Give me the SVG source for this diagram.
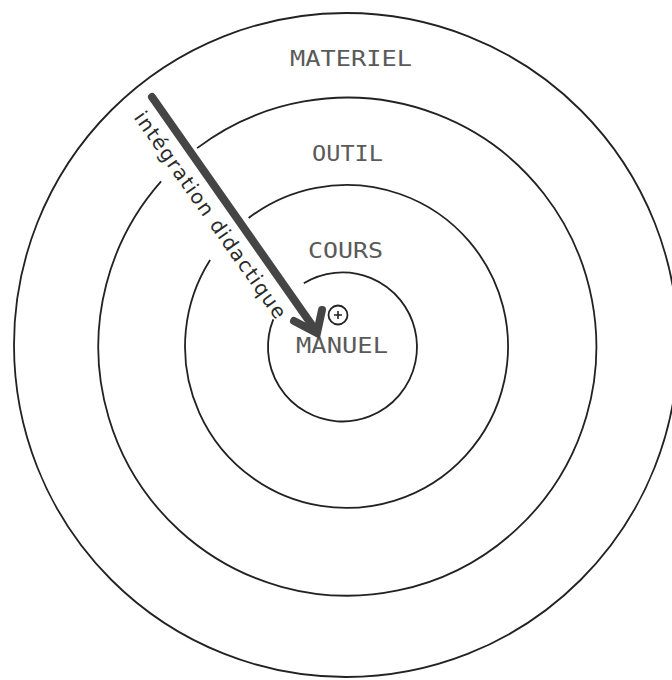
<svg xmlns="http://www.w3.org/2000/svg" width="672" height="680" viewBox="0 0 672 680">
  <style>
    .ring { fill: none; stroke: #222; stroke-width: 1.8; }
    .lbl { font-family: "DejaVu Sans Mono", "Liberation Mono", monospace; font-size: 22px; fill: #5a5a5a; }
    .hand { font-family: "DejaVu Sans", "Liberation Sans", sans-serif; font-size: 20px; fill: #2a2a2a; }
    .arrow { fill: none; stroke: #454545; stroke-width: 8; stroke-linecap: round; stroke-linejoin: miter; }
  </style>
  <rect width="672" height="680" fill="#fff"/>

  <g id="materiel">
    <circle class="ring" cx="346" cy="345" r="332"/>
    <text class="lbl" x="290" y="66" textLength="122" lengthAdjust="spacingAndGlyphs">MATERIEL</text>
  </g>

  <g id="outil">
    <path class="ring" d="M197.1 148.1 A249 249 0 1 1 161.1 181.4"/>
    <text class="lbl" x="312" y="161" textLength="71" lengthAdjust="spacingAndGlyphs">OUTIL</text>
  </g>

  <g id="cours">
    <path class="ring" d="M248.6 218 A161.5 161.5 0 1 1 210.1 260"/>
    <text class="lbl" x="308" y="258" textLength="75" lengthAdjust="spacingAndGlyphs">COURS</text>
  </g>

  <g id="manuel">
    <path class="ring" d="M303.8 283.3 A74.5 74.5 0 1 1 273.3 319.3"/>
    <text class="lbl" x="296" y="353" textLength="92" lengthAdjust="spacingAndGlyphs">MANUEL</text>
    <g id="plus">
      <circle cx="338" cy="315" r="9.5" fill="none" stroke="#222" stroke-width="1.8"/>
      <path d="M334 315 H342 M338 311 V319" stroke="#222" stroke-width="1.6"/>
    </g>
  </g>

  <g id="connectors">
    <line class="arrow" x1="152" y1="97" x2="314" y2="328"/>
    <path class="arrow" stroke-width="6.5" d="M294 321 L317 333 L322 310"/>
    <text class="hand" transform="translate(152 97) rotate(54.9)" x="6" y="27" textLength="248" lengthAdjust="spacing">intégration didactique</text>
  </g>
</svg>
